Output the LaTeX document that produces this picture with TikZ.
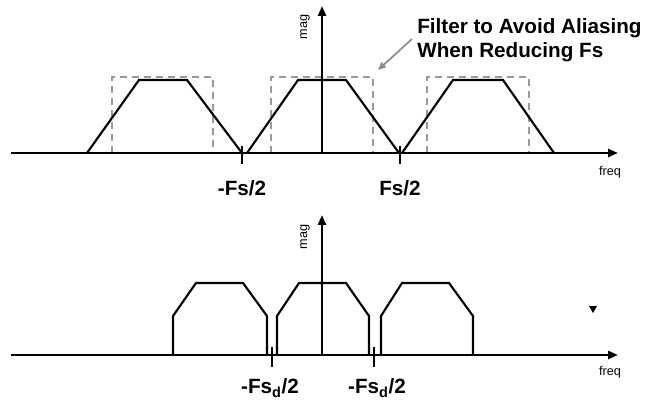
\documentclass[tikz,border=0pt]{standalone}
\usepackage{fontspec}
\setmainfont{Liberation Sans}
\usetikzlibrary{arrows.meta}
\begin{document}
\begin{tikzpicture}[x=0.75pt,y=-0.75pt,
  axisline/.style={line width=2.2pt,-{Triangle[length=7.5pt,width=6pt]}},
  specline/.style={line width=1.6pt,line join=miter},
  filterbox/.style={line width=2pt,draw=black!40,dash pattern=on 5pt off 4pt},
  tickmark/.style={line width=2.2pt},
  biglabel/.style={font=\bfseries\fontsize{15.5}{18}\selectfont,inner sep=0pt},
  smalllabel/.style={font=\fontsize{9.5}{11}\selectfont,inner sep=0pt},
  callout/.style={line width=1.3pt,draw=black!45,-{Triangle[length=6pt,width=5pt]}}]
\useasboundingbox (0,0) rectangle (657,406);
% ---------- top panel ----------
\coordinate (tx0) at (11,153);
\coordinate (tx1) at (618,153);
\coordinate (ty0) at (322,153);
\coordinate (ty1) at (322,6);
% filter boxes
\draw[filterbox] (112,153) -- (112,77) -- (213,77) -- (213,153);
\draw[filterbox] (271,153) -- (271,77) -- (373,77) -- (373,153);
\draw[filterbox] (427,153) -- (427,77) -- (529,77) -- (529,153);
% spectra
\draw[specline] (87,153) -- (139,80) -- (187,80) -- (242,153);
\draw[specline] (247,153) -- (298,80) -- (346,80) -- (399,153);
\draw[specline] (402,153) -- (453,80) -- (503,80) -- (554,153);
\draw[axisline] (tx0) -- (tx1);
\draw[axisline] (ty0) -- (ty1);
\draw[tickmark] (242,146) -- (242,164);
\draw[tickmark] (400,146) -- (400,164);
\node[biglabel] (mfs) at (242,188) {-Fs/2};
\node[biglabel] (pfs) at (400,188) {Fs/2};
\node[smalllabel] (tfreq) at (610,172) {freq};
\node[smalllabel,rotate=90] (tmag) at (305,27) {mag};
\node[biglabel,align=left,anchor=west] (filt) at (417,40) {Filter to Avoid Aliasing\\When Reducing Fs};
\coordinate (calloutend) at (378,70);
\draw[callout] (412,39) -- (calloutend);
% ---------- bottom panel ----------
\coordinate (bx0) at (11,355);
\coordinate (bx1) at (618,355);
\coordinate (by0) at (322,355);
\coordinate (by1) at (322,215);
\draw[specline] (173,355) -- (173,316) -- (196,283) -- (243,283) -- (267,316) -- (267,355);
\draw[specline] (277,355) -- (277,316) -- (299,283) -- (346,283) -- (369,316) -- (369,355);
\draw[specline] (381,355) -- (381,316) -- (402,283) -- (449,283) -- (473,316) -- (473,355);
\draw[axisline] (bx0) -- (bx1);
\draw[axisline] (by0) -- (by1);
\draw[tickmark] (272,347) -- (272,367);
\draw[tickmark] (374,347) -- (374,367);
\node[biglabel] (mfsd) at (270,388) {-Fs\textsubscript{d}/2};
\node[biglabel] (mfsd2) at (377,388) {-Fs\textsubscript{d}/2};
\node[smalllabel] (bfreq) at (610,372) {freq};
\node[smalllabel,rotate=90] (bmag) at (305,237) {mag};
\fill (589,306) -- (597,306) -- (593,313) -- cycle;
\end{tikzpicture}
\end{document}
